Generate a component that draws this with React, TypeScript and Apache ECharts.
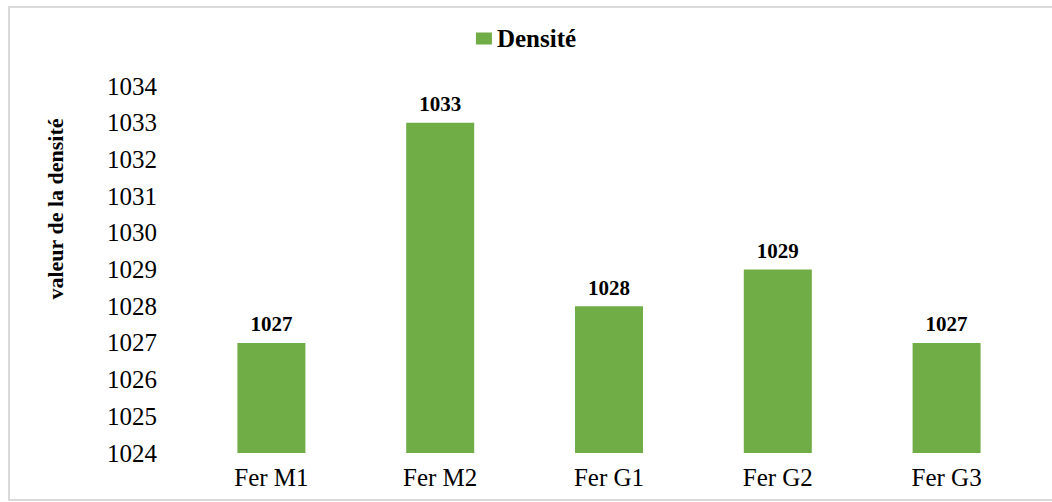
import React, { useEffect, useRef } from "react";
import * as echarts from "echarts";

const categories = ["Fer M1", "Fer M2", "Fer G1", "Fer G2", "Fer G3"];
const densite = [1027, 1033, 1028, 1029, 1027];
const seriesName = "Densité";
const yTitle = "valeur de la densité";

export default function App() {
  const ref = useRef<HTMLDivElement>(null);
  useEffect(() => {
    if (!ref.current) return;
    const chart = echarts.init(ref.current, null, { renderer: "svg" });
    const serif = "'Liberation Serif', 'Times New Roman', serif";
    chart.setOption({
      animation: false,
      backgroundColor: "#ffffff",
      legend: {
        top: 21,
        left: "center",
        itemWidth: 16,
        itemHeight: 12,
        icon: "rect",
        data: [seriesName],
        textStyle: { fontFamily: serif, fontWeight: "bold", fontSize: 25, color: "#000" },
      },
      grid: { left: 187, right: 21, top: 86, bottom: 49 },
      xAxis: {
        type: "category",
        data: categories,
        axisLine: { show: false },
        axisTick: { show: false },
        axisLabel: { fontFamily: serif, fontSize: 25, color: "#000", margin: 12 },
      },
      yAxis: {
        type: "value",
        min: 1024,
        max: 1034,
        interval: 1,
        splitLine: { show: false },
        axisLine: { show: false },
        axisTick: { show: false },
        axisLabel: {
          fontFamily: serif,
          fontSize: 25,
          color: "#000",
          margin: 30,
          formatter: (v: number) => String(v),
        },
      },
      series: [
        {
          name: seriesName,
          type: "bar",
          data: densite,
          barWidth: 68,
          itemStyle: { color: "#70AD47" },
          label: {
            show: true,
            position: "top",
            distance: 8,
            fontFamily: serif,
            fontWeight: "bold",
            fontSize: 21,
            color: "#000",
            formatter: (p: any) => String(p.value),
          },
        },
      ],
      graphic: [
        {
          type: "rect",
          shape: { x: 9, y: 7, width: 1060, height: 493 },
          style: { fill: "none", stroke: "#d9d9d9", lineWidth: 2 },
          silent: true,
        },
        {
          type: "text",
          x: 55,
          y: 209,
          rotation: Math.PI / 2,
          style: {
            text: yTitle,
            fontFamily: serif,
            fontWeight: "bold",
            fontSize: 22,
            fill: "#000",
            align: "center",
            verticalAlign: "middle",
          },
        },
      ],
    });
    return () => chart.dispose();
  }, []);
  return (
    <div
      ref={ref}
      style={{ position: "fixed", left: 0, top: 0, width: 1052, height: 502 }}
    />
  );
}
